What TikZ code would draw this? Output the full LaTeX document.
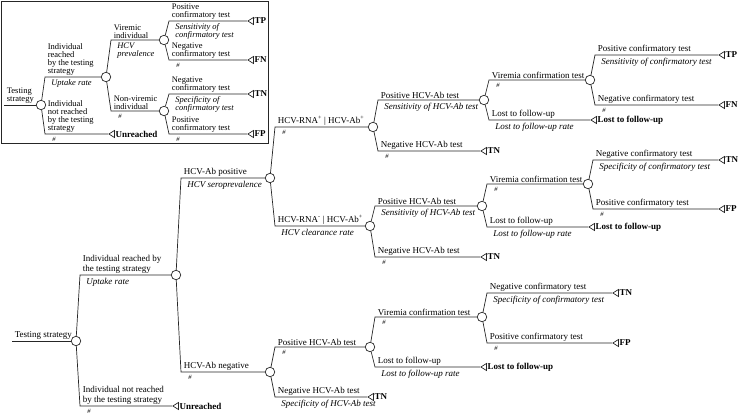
\documentclass[tikz,border=0pt]{standalone}
\usepackage{fontspec}
\setmainfont{Liberation Serif}
\usetikzlibrary{shapes.geometric}

\tikzset{
  chance/.style={circle, draw, fill=white, inner sep=0pt, minimum size=9.5pt},
  endtri/.style={isosceles triangle, isosceles triangle stretches, shape border rotate=180,
    draw, fill=white, inner sep=0pt, minimum height=5.5pt, minimum width=7pt, anchor=apex},
  outcome/.style={font=\fontsize{9}{10}\selectfont\bfseries, inner sep=0.5pt},
  toplab/.style={anchor=south west, inner sep=0pt, xshift=2.5pt, yshift=1.5pt, align=left},
  botlab/.style={anchor=north west, inner sep=0pt, xshift=6pt, yshift=-2.5pt, align=left,
    font=\fontsize{9}{9.5}\selectfont\itshape},
  hashlab/.style={anchor=north west, inner sep=0pt, xshift=7pt, yshift=-3pt,
    font=\fontsize{6.5}{7}\selectfont\itshape},
  intop/.style={toplab, font=\fontsize{8.5}{8}\selectfont},
  inbot/.style={botlab, font=\fontsize{8.5}{8}\selectfont\itshape},
}

\begin{document}
\begin{tikzpicture}[x=1pt, y=-1pt, font=\fontsize{9}{9.5}\selectfont, line width=0.7pt, draw=black!85]
\useasboundingbox (0,0) rectangle (740,417);

% small tree in the box
\draw[line width=0.9pt] (1,1) rectangle (268,143);

\coordinate (is) at (4,105);
\node[chance] (i1) at (41,105) {};
\node[chance] (i2) at (106,77) {};
\node[endtri, label={[outcome]right:Unreached}] (iu) at (108,134) {};
\node[chance] (i3) at (164,40) {};
\node[chance] (i4) at (164,111) {};
\node[endtri, label={[outcome]right:TP}] (itp) at (247,21) {};
\node[endtri, label={[outcome]right:FN}] (ifn) at (247,60) {};
\node[endtri, label={[outcome]right:TN}] (itn) at (247,94) {};
\node[endtri, label={[outcome]right:FP}] (ifp) at (247,134) {};

\draw (is) -- node[pos=0,intop]{Testing\\strategy} (i1);
\draw (i1) -- ([xshift=4pt]i1 |- i2) -- node[pos=0,intop]{Individual\\reached\\by the testing\\strategy} node[pos=0,inbot]{Uptake rate} (i2);
\draw (i1) -- ([xshift=4pt]i1 |- iu) -- node[pos=0,intop]{Individual\\not reached\\by the testing\\strategy} node[pos=0,hashlab]{\#} (iu);
\draw (i2) -- ([xshift=5pt]i2 |- i3) -- node[pos=0,intop]{Viremic\\individual} node[pos=0,inbot]{HCV\\prevalence} (i3);
\draw (i2) -- ([xshift=5pt]i2 |- i4) -- node[pos=0,intop]{Non-viremic\\individual} node[pos=0,hashlab]{\#} (i4);
\draw (i3) -- ([xshift=5pt]i3 |- itp) -- node[pos=0,intop]{Positive\\confirmatory test} node[pos=0,inbot]{Sensitivity of\\confirmatory test} (itp);
\draw (i3) -- ([xshift=5pt]i3 |- ifn) -- node[pos=0,intop]{Negative\\confirmatory test} node[pos=0,hashlab]{\#} (ifn);
\draw (i4) -- ([xshift=5pt]i4 |- itn) -- node[pos=0,intop]{Negative\\confirmatory test} node[pos=0,inbot]{Specificity of\\confirmatory test} (itn);
\draw (i4) -- ([xshift=5pt]i4 |- ifp) -- node[pos=0,intop]{Positive\\confirmatory test} node[pos=0,hashlab]{\#} (ifp);

% full tree
\coordinate (ms) at (12,341);
\node[chance] (m1) at (76,341) {};
\node[chance] (m2) at (176,275) {};
\node[endtri, label={[outcome]right:Unreached}] (mu) at (172,406) {};
\node[chance] (m3) at (270,178) {};
\node[chance] (m4) at (270,372) {};
\node[chance] (m5) at (373,127) {};
\node[chance] (m6) at (370,226) {};
\node[chance] (m7) at (484,100) {};
\node[endtri, label={[outcome]right:TN}] (tn1) at (480,151) {};
\node[chance] (m8) at (590,80) {};
\node[endtri, label={[outcome]right:Lost to follow-up}] (lf1) at (590,120) {};
\node[endtri, label={[outcome]right:TP}] (tp1) at (718,55) {};
\node[endtri, label={[outcome]right:FN}] (fn1) at (718,105) {};
\node[chance] (m9) at (482,206) {};
\node[endtri, label={[outcome]right:TN}] (tn2) at (480,257) {};
\node[chance] (m10) at (588,184) {};
\node[endtri, label={[outcome]right:Lost to follow-up}] (lf2) at (588,227) {};
\node[endtri, label={[outcome]right:TN}] (tn3) at (718,160) {};
\node[endtri, label={[outcome]right:FP}] (fp1) at (718,209) {};
\node[chance] (m11) at (370,347) {};
\node[endtri, label={[outcome]right:TN}] (tn4) at (367,397) {};
\node[chance] (m12) at (482,317) {};
\node[endtri, label={[outcome]right:Lost to follow-up}] (lf3) at (480,367) {};
\node[endtri, label={[outcome]right:TN}] (tn5) at (612,293) {};
\node[endtri, label={[outcome]right:FP}] (fp2) at (612,343) {};

\draw (ms) -- node[pos=0,toplab]{Testing strategy} (m1);
\draw (m1) -- ([xshift=4pt]m1 |- m2) -- node[pos=0,toplab]{Individual reached by\\the testing strategy} node[pos=0,botlab]{Uptake rate} (m2);
\draw (m1) -- ([xshift=4pt]m1 |- mu) -- node[pos=0,toplab]{Individual not reached\\by the testing strategy} node[pos=0,hashlab]{\#} (mu);
\draw (m2) -- ([xshift=5pt]m2 |- m3) -- node[pos=0,toplab]{HCV-Ab positive} node[pos=0,botlab]{HCV seroprevalence} (m3);
\draw (m2) -- ([xshift=5pt]m2 |- m4) -- node[pos=0,toplab]{HCV-Ab negative} node[pos=0,hashlab]{\#} (m4);
\draw (m3) -- ([xshift=5pt]m3 |- m5) -- node[pos=0,toplab]{HCV-RNA\textsuperscript{+} | HCV-Ab\textsuperscript{+}} node[pos=0,hashlab]{\#} (m5);
\draw (m3) -- ([xshift=5pt]m3 |- m6) -- node[pos=0,toplab]{HCV-RNA\textsuperscript{-} | HCV-Ab\textsuperscript{+}} node[pos=0,botlab]{HCV clearance rate} (m6);
\draw (m5) -- ([xshift=5pt]m5 |- m7) -- node[pos=0,toplab]{Positive HCV-Ab test} node[pos=0,botlab]{Sensitivity of HCV-Ab test} (m7);
\draw (m5) -- ([xshift=5pt]m5 |- tn1) -- node[pos=0,toplab]{Negative HCV-Ab test} node[pos=0,hashlab]{\#} (tn1);
\draw (m7) -- ([xshift=5pt]m7 |- m8) -- node[pos=0,toplab]{Viremia confirmation test} node[pos=0,hashlab]{\#} (m8);
\draw (m7) -- ([xshift=5pt]m7 |- lf1) -- node[pos=0,toplab]{Lost to follow-up} node[pos=0,botlab]{Lost to follow-up rate} (lf1);
\draw (m8) -- ([xshift=5pt]m8 |- tp1) -- node[pos=0,toplab]{Positive confirmatory test} node[pos=0,botlab]{Sensitivity of confirmatory test} (tp1);
\draw (m8) -- ([xshift=5pt]m8 |- fn1) -- node[pos=0,toplab]{Negative confirmatory test} node[pos=0,hashlab]{\#} (fn1);
\draw (m6) -- ([xshift=5pt]m6 |- m9) -- node[pos=0,toplab]{Positive HCV-Ab test} node[pos=0,botlab]{Sensitivity of HCV-Ab test} (m9);
\draw (m6) -- ([xshift=5pt]m6 |- tn2) -- node[pos=0,toplab]{Negative HCV-Ab test} node[pos=0,hashlab]{\#} (tn2);
\draw (m9) -- ([xshift=5pt]m9 |- m10) -- node[pos=0,toplab]{Viremia confirmation test} node[pos=0,hashlab]{\#} (m10);
\draw (m9) -- ([xshift=5pt]m9 |- lf2) -- node[pos=0,toplab]{Lost to follow-up} node[pos=0,botlab]{Lost to follow-up rate} (lf2);
\draw (m10) -- ([xshift=5pt]m10 |- tn3) -- node[pos=0,toplab]{Negative confirmatory test} node[pos=0,botlab]{Specificity of confirmatory test} (tn3);
\draw (m10) -- ([xshift=5pt]m10 |- fp1) -- node[pos=0,toplab]{Positive confirmatory test} node[pos=0,hashlab]{\#} (fp1);
\draw (m4) -- ([xshift=5pt]m4 |- m11) -- node[pos=0,toplab]{Positive HCV-Ab test} node[pos=0,hashlab]{\#} (m11);
\draw (m4) -- ([xshift=5pt]m4 |- tn4) -- node[pos=0,toplab]{Negative HCV-Ab test} node[pos=0,botlab]{Specificity of HCV-Ab test} (tn4);
\draw (m11) -- ([xshift=5pt]m11 |- m12) -- node[pos=0,toplab]{Viremia confirmation test} node[pos=0,hashlab]{\#} (m12);
\draw (m11) -- ([xshift=5pt]m11 |- lf3) -- node[pos=0,toplab]{Lost to follow-up} node[pos=0,botlab]{Lost to follow-up rate} (lf3);
\draw (m12) -- ([xshift=5pt]m12 |- tn5) -- node[pos=0,toplab]{Negative confirmatory test} node[pos=0,botlab]{Specificity of confirmatory test} (tn5);
\draw (m12) -- ([xshift=5pt]m12 |- fp2) -- node[pos=0,toplab]{Positive confirmatory test} node[pos=0,hashlab]{\#} (fp2);

\end{tikzpicture}
\end{document}
